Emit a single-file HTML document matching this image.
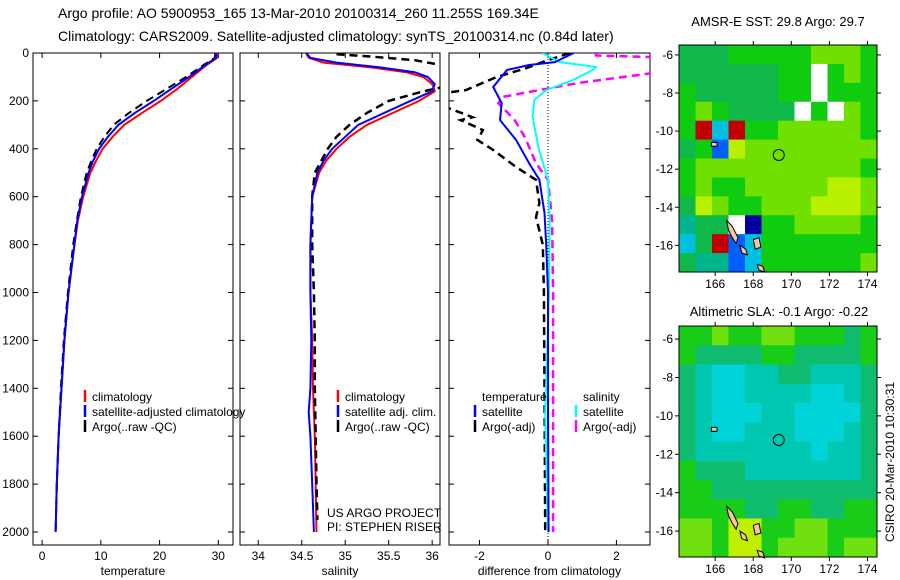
<!DOCTYPE html>
<html><head><meta charset="utf-8"><style>
body{margin:0;background:#fff;width:900px;height:580px;overflow:hidden}
svg{display:block;font-family:"Liberation Sans",sans-serif}
</style></head><body>
<svg id="c" width="900" height="580" xmlns="http://www.w3.org/2000/svg">
<text x="58" y="18" font-size="14">Argo profile: AO 5900953_165 13-Mar-2010 20100314_260 11.255S 169.34E</text>
<text x="58" y="41" font-size="14">Climatology: CARS2009. Satellite-adjusted climatology: synTS_20100314.nc (0.84d later)</text>
<text x="778" y="26" font-size="13" text-anchor="middle">AMSR-E SST: 29.8 Argo: 29.7</text>
<text x="779" y="316" font-size="13" text-anchor="middle">Altimetric SLA: -0.1 Argo: -0.22</text>
<text x="0" y="0" font-size="12" text-anchor="middle" transform="translate(894,462) rotate(-90)">CSIRO 20-Mar-2010 10:30:31</text>
<text x="327" y="517" font-size="12">US ARGO PROJECT</text>
<text x="327" y="531" font-size="12">PI: STEPHEN RISER</text>
</svg>
<script>
// ---------- profile data ----------
const depthTicks=[0,200,400,600,800,1000,1200,1400,1600,1800,2000];
const tempTicks=[0,10,20,30];
const salTicks=[34,34.5,35,35.5,36];
const diffTicks=[-2,0,2];
const tClimDepth=[0,20,50,100,150,200,250,300,350,400,450,500,600,700,800,1000,1200,1400,1600,1800,2000];
const tClimVal=[29.8,29.8,28,25.5,23,20.2,17,14,12,10.3,9.2,8.2,7,6.1,5.5,4.5,3.8,3.3,2.8,2.5,2.3];
const tSatVal=[29.6,29.6,27.8,25,22,19,15.8,13,11.2,9.7,8.7,7.9,6.8,6,5.5,4.5,3.8,3.3,2.8,2.5,2.3];
const tArgoVal=[29.5,29.4,27.5,24.5,21.2,17.8,14.8,12.2,10.6,9.3,8.4,7.6,6.6,5.9,5.3,4.4,3.7,3.2,2.8,2.5,2.3];
const sDepth=[0,20,40,60,80,100,130,160,200,250,300,350,400,450,500,600,800,1000,1200,1400,1500,1600,1800,2000];
const sClimVal=[34.55,34.58,34.75,35.3,35.7,35.9,36.0,36.03,35.85,35.55,35.25,35.05,34.9,34.78,34.7,34.62,34.6,34.6,34.62,34.63,34.64,34.65,34.66,34.67];
const sSatVal=[34.55,34.6,34.9,35.4,35.8,35.95,36.03,36.0,35.75,35.45,35.15,35.0,34.85,34.75,34.68,34.62,34.6,34.6,34.61,34.6,34.58,34.6,34.62,34.64];
const sArgoDepth=[5,15,30,50,80,140,160,200,250,300,350,400,500,600,800,1000,1200,1400,1600,1800,1950];
const sArgoVal=[34.9,35.3,35.8,36.1,36.3,36.15,35.9,35.5,35.25,35.05,34.9,34.8,34.65,34.62,34.62,34.64,34.65,34.65,34.66,34.67,34.68];
const dTSatDepth=[0,38,50,71,142,209,280,363,460,530,668,800,1000,1500,2000];
const dTSatVal=[0.75,0.2,-0.55,-1.2,-1.6,-1.35,-1.4,-0.93,-0.55,-0.25,-0.1,-0.05,0,0,0.02];
const dTArgoDepth=[0,30,63,100,155,167,225,268,280,322,363,405,476,530,626,685,800,1000,1400,2000];
const dTArgoVal=[0.63,0,-0.63,-1.5,-2.4,-3,-3,-2.2,-2.55,-1.9,-2.06,-1.6,-0.93,-0.35,-0.25,-0.35,-0.15,-0.12,-0.1,-0.08];
const dSSatDepth=[0,38,58,71,113,155,196,267,405,530,700,1000,1500,2000];
const dSSatVal=[-0.17,0.35,1.4,1.3,0.73,-0.05,-0.4,-0.45,-0.26,0,0.05,0.03,-0.08,0];
const dSArgoDepth=[0,10,17,83,125,155,183,209,280,350,460,530,700,1000,2000];
const dSArgoVal=[1.4,1.4,3.1,3.1,0.9,-0.26,-1.3,-1.45,-0.97,-0.68,-0.35,0,0.12,0.15,0.15];
// ---------- map data (value indices into colour scale) ----------
const sstGrid=[
[4,4,4,5,5,5,5,5,6,6,6,5],
[4,4,4,4,4,4,5,5,10,5,6,5],
[5,4,4,4,4,4,5,5,10,5,5,5],
[5,6,5,4,4,4,4,10,5,10,6,5],
[5,9,2,9,5,5,6,6,6,6,6,5],
[4,5,1,7,6,6,6,6,6,6,6,6],
[5,6,6,6,6,6,6,6,6,6,6,5],
[5,6,5,5,6,6,6,6,6,7,7,6],
[4,7,6,5,5,6,6,6,7,7,7,6],
[3,4,4,10,0,5,5,6,6,6,6,5],
[2,4,9,1,2,5,5,5,5,5,5,5],
[4,3,3,1,2,5,5,5,5,5,5,6]];
const slaGrid=[
[5,5,6,5,5,6,6,5,5,5,4,5],
[5,4,4,4,4,5,5,4,4,4,4,5],
[4,3,2,2,3,3,4,4,3,3,3,4],
[4,3,2,2,3,3,3,3,2,2,3,4],
[4,3,2,2,2,3,3,2,2,2,2,4],
[4,3,2,2,3,3,3,2,2,2,3,4],
[4,3,3,3,3,3,3,3,2,3,3,4],
[5,4,4,4,3,3,3,3,3,3,3,4],
[5,5,4,4,4,4,4,4,4,4,4,4],
[5,5,5,5,4,4,5,5,4,4,5,5],
[6,6,5,7,7,5,5,6,6,5,5,5],
[6,6,5,7,7,5,6,6,6,5,6,6]];
const lonTicks=[166,168,170,172,174];
const latTicks=[-6,-8,-10,-12,-14,-16];
const floatLon=[169.34];
const floatLat=[-11.255];
const islandLon=[[166.6,166.9,167.2,167.1,166.9,166.7],[167.3,167.6,167.7,167.4],[168.0,168.3,168.4,168.1],[165.8,166.1,166.1,165.8],[168.2,168.5,168.6,168.3]];
const islandLat=[[-14.7,-15.0,-15.6,-15.9,-15.6,-15.2],[-16.0,-16.2,-16.5,-16.4],[-15.7,-15.6,-16.1,-16.2],[-10.6,-10.6,-10.8,-10.8],[-17.0,-17.1,-17.4,-17.3]];

const NS="http://www.w3.org/2000/svg";
const svg=document.getElementById('c');
function mk(tag,attrs,parent){const e=document.createElementNS(NS,tag);for(const k in attrs)e.setAttribute(k,attrs[k]);(parent||svg).appendChild(e);return e;}
const TOP=53,BOT=545;
function yD(d){return 53+d*0.2395;}
function panel(x0,x1,xmin,xmax,ticks,label,name,showY){
  const sx=v=>x0+(v-xmin)/(xmax-xmin)*(x1-x0);
  const g=mk('g',{});
  
  
  const r=mk('rect',{x:x0,y:TOP,width:x1-x0,height:BOT-TOP,fill:'none',stroke:'#000','stroke-width':1},g);
  
  
  ticks.forEach(t=>{
    const x=sx(t);
    mk('line',{x1:x,x2:x,y1:BOT,y2:BOT-5,stroke:'#000'},g);
    mk('line',{x1:x,x2:x,y1:TOP,y2:TOP+5,stroke:'#000'},g);
    const tx=mk('text',{x:x,y:BOT+15,'font-size':12,'text-anchor':'middle'},g);
    tx.textContent=t;
    
    
  });
  depthTicks.forEach(d=>{
    const y=yD(d);
    mk('line',{x1:x0,x2:x0+5,y1:y,y2:y,stroke:'#000'},g);
    mk('line',{x1:x1,x2:x1-5,y1:y,y2:y,stroke:'#000'},g);
    if(showY){const t=mk('text',{x:x0-4,y:y+4,'font-size':12,'text-anchor':'end'},g);t.textContent=d;
      
      }
  });
  const xl=mk('text',{x:(x0+x1)/2,y:575,'font-size':12,'text-anchor':'middle'},g);
  xl.textContent=label;
  
  
  return {sx,g};
}
function line(p,depths,vals,color,dash,w,name,x0){
  const pts=depths.map((d,i)=>p.sx(vals[i]).toFixed(1)+','+yD(d).toFixed(1)).join(' ');
  const cp='cp'+Math.round(x0);
  const l=mk('polyline',{points:pts,fill:'none',stroke:color,'stroke-width':w,'stroke-dasharray':dash||'none','clip-path':'url(#'+cp+')'},p.g);
  
  
}
const defs=mk('defs',{});
[[33,233],[240,440],[449,650]].forEach(([a,b])=>{const c=mk('clipPath',{id:'cp'+a},defs);mk('rect',{x:a,y:TOP,width:b-a,height:BOT-TOP},c);});
const p1=panel(33,233,-1.55,32.5,tempTicks,'temperature','temperature-panel',true);
line(p1,tClimDepth,tClimVal,'#f00','',2,'temp-climatology-line',33);
line(p1,tClimDepth,tArgoVal,'#000','8,5',2,'temp-argo-line',33);
line(p1,tClimDepth,tSatVal,'#00f','',2,'temp-satellite-line',33);
const p2=panel(240,440,33.79,36.09,salTicks,'salinity','salinity-panel',false);
line(p2,sDepth,sClimVal,'#f00','',2,'sal-climatology-line',240);
line(p2,sArgoDepth,sArgoVal,'#000','8,5',2.5,'sal-argo-line',240);
line(p2,sDepth,sSatVal,'#00f','',2,'sal-satellite-line',240);
const p3=panel(449,650,-2.89,2.98,diffTicks,'difference from climatology','difference-panel',false);
mk('line',{x1:p3.sx(0),x2:p3.sx(0),y1:TOP,y2:BOT,stroke:'#000','stroke-dasharray':'1,2'},p3.g);
line(p3,dSArgoDepth,dSArgoVal,'#f0f','8,5',2.5,'diff-sal-argo-line',449);
line(p3,dTArgoDepth,dTArgoVal,'#000','8,5',2.5,'diff-temp-argo-line',449);
line(p3,dSSatDepth,dSSatVal,'#0ff','',2,'diff-sal-satellite-line',449);
line(p3,dTSatDepth,dTSatVal,'#00f','',2,'diff-temp-satellite-line',449);
// legends
function leg(x,y,color,text,name){
  const l=mk('line',{x1:x,x2:x,y1:y-7,y2:y+5,stroke:color,'stroke-width':2.5});
  
  
  const t=mk('text',{x:x+7,y:y+4,'font-size':12});t.textContent=text;
  
  
}
leg(85,397,'#f00','climatology','legend-climatology');
leg(85,412,'#00f','satellite-adjusted climatology','legend-satellite');
leg(85,427,'#000','Argo(..raw -QC)','legend-argo');
leg(338,397,'#f00','climatology','legend-sal-climatology');
leg(338,412,'#00f','satellite adj. clim.','legend-sal-satellite');
leg(338,427,'#000','Argo(..raw -QC)','legend-sal-argo');
{const t=mk('text',{x:482,y:401,'font-size':12});t.textContent='temperature';}
{const t=mk('text',{x:583,y:401,'font-size':12});t.textContent='salinity';}
leg(475,412,'#00f','satellite','legend-diff-temp-satellite');
leg(475,427,'#000','Argo(-adj)','legend-diff-temp-argo');
leg(576,412,'#0ff','satellite','legend-diff-sal-satellite');
leg(576,427,'#f0f','Argo(-adj)','legend-diff-sal-argo');
// maps
const sstCol=['#0000a0','#0060ff','#00c0e0','#00b48c','#10b84a','#10cc10','#70e000','#b8f000','#f0f000','#c00000','#ffffff'];
const slaCol=['#0000a0','#0060ff','#00d4d8','#00c8b0','#10bc70','#18cc18','#70e010','#c0f000','#f0f000','#c00000','#ffffff'];
function map(y0,y1,latTop,latBot,grid,cols,name){
  const x0=679,x1=877,lonMin=164.1,lonMax=174.5;
  const sx=v=>x0+(v-lonMin)/(lonMax-lonMin)*(x1-x0);
  const sy=v=>y0+(latTop-v)/(latTop-latBot)*(y1-y0);
  const g=mk('g',{});
  
  
  const nr=grid.length,nc=grid[0].length;
  const cw=(lonMax-lonMin)/nc,ch=(latTop-latBot)/nr;
  grid.forEach((row,i)=>row.forEach((v,j)=>{
    const xa=sx(lonMin+j*cw),xb=sx(lonMin+(j+1)*cw),ya=sy(latTop-i*ch),yb=sy(latTop-(i+1)*ch);
    const r=mk('rect',{x:xa,y:ya,width:xb-xa+0.5,height:yb-ya+0.5,fill:cols[v]},g);
    
    
  }));
  islandLon.forEach((lons,k)=>{
    const pts=lons.map((lo,i)=>sx(lo).toFixed(1)+','+sy(islandLat[k][i]).toFixed(1)).join(' ');
    const p=mk('polygon',{points:pts,fill:'#f5c8a0',stroke:'#000','stroke-width':1},g);
    
    
  });
  const c=mk('circle',{cx:sx(floatLon[0]),cy:sy(floatLat[0]),r:5.5,fill:'none',stroke:'#000','stroke-width':1},g);
  
  
  const fr=mk('rect',{x:x0,y:y0,width:x1-x0,height:y1-y0,fill:'none',stroke:'#000'},g);
  
  
  lonTicks.forEach(t=>{const x=sx(t);
    mk('line',{x1:x,x2:x,y1:y1,y2:y1+4,stroke:'#000'},g);
    mk('line',{x1:x,x2:x,y1:y0,y2:y0-4,stroke:'#000'},g);
    const tx=mk('text',{x:x,y:y1+16,'font-size':12,'text-anchor':'middle'},g);tx.textContent=t;
    
    });
  latTicks.forEach(t=>{const y=sy(t);
    mk('line',{x1:x0,x2:x0-4,y1:y,y2:y,stroke:'#000'},g);
    mk('line',{x1:x1,x2:x1+4,y1:y,y2:y,stroke:'#000'},g);
    const tx=mk('text',{x:x0-6,y:y+4,'font-size':12,'text-anchor':'end'},g);tx.textContent=t;
    
    });
}
map(45,272,-5.48,-17.4,sstGrid,sstCol,'sst-map');
map(326,557,-5.32,-17.35,slaGrid,slaCol,'sla-map');
</script>
</body></html>
